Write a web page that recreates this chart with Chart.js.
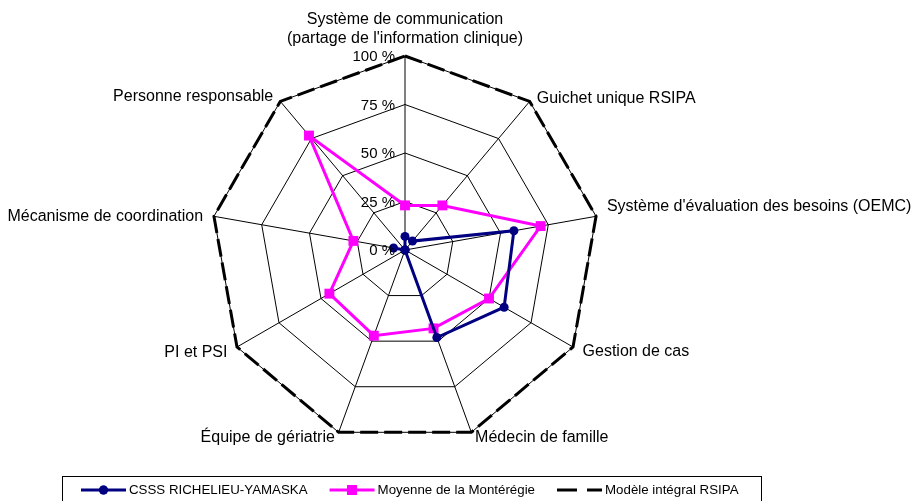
<!DOCTYPE html>
<html>
<head>
<meta charset="utf-8">
<script src="https://cdn.jsdelivr.net/npm/chart.js@4/dist/chart.umd.min.js"></script>
<style>
  html, body { margin: 0; padding: 0; background: #ffffff; }
  #wrap { width: 911px; height: 501px; position: relative; }
</style>
</head>
<body>
<div id="wrap"><canvas id="c" width="911" height="501"></canvas></div>
<script>
// ---- Data ----
const categories = [
  ["Système de communication", "(partage de l'information clinique)"],
  "Guichet unique RSIPA",
  "Système d'évaluation des besoins (OEMC)",
  "Gestion de cas",
  "Médecin de famille",
  "Équipe de gériatrie",
  "PI et PSI",
  "Mécanisme de coordination",
  "Personne responsable"
];
const seriesNames = ["CSSS RICHELIEU-YAMASKA", "Moyenne de la Montérégie", "Modèle intégral RSIPA"];
const csssValues = [7, 6, 57, 59, 48, 0, 0, 6, 0];
const monteregieValues = [23, 30, 71, 50, 43, 47, 45, 27, 77];
const modeleValues = [100, 100, 100, 100, 100, 100, 100, 100, 100];
const tickValues = [0, 25, 50, 75, 100];
const tickLabels = ["0 %", "25 %", "50 %", "75 %", "100 %"];

const FONT = '"Liberation Sans", Arial, sans-serif';
const labelDy = [2, 5.5, -8, -1, -5, -5, 0, 2, 4];

// Draw tick labels, point labels and legend using the chart's own scale
const annotatePlugin = {
  id: 'annotate',
  afterDraw(chart) {
    const ctx = chart.ctx;
    const r = chart.scales.r;
    ctx.save();
    ctx.fillStyle = '#000';
    // tick labels
    ctx.font = '15px ' + FONT;
    ctx.textAlign = 'right';
    ctx.textBaseline = 'middle';
    tickValues.forEach((v, i) => {
      const d = r.getDistanceFromCenterForValue(v);
      ctx.fillText(tickLabels[i], r.xCenter - 10, r.yCenter - d + 1);
    });
    // point labels
    ctx.font = '16px ' + FONT;
    const R = r.drawingArea;
    categories.forEach((lab, i) => {
      const p = r.getPointPosition(i, R + 11);
      const lines = Array.isArray(lab) ? lab : [lab];
      const ang = (i * 360 / categories.length);
      let align = 'center';
      if (ang > 0.5 && ang < 179.5) align = 'left';
      else if (ang > 180.5) align = 'right';
      ctx.textAlign = align;
      ctx.textBaseline = 'middle';
      if (align === 'center') {
        for (let k = 0; k < lines.length; k++) {
          const y = p.y - 8 - (lines.length - 1 - k) * 19 + labelDy[i];
          ctx.fillText(lines[k], p.x, y);
        }
      } else {
        ctx.fillText(lines[0], p.x, p.y + labelDy[i]);
      }
    });
    // legend
    const ds = chart.data.datasets;
    const boxL = 62, boxR = 761, boxT = 476, ly = 490;
    ctx.lineWidth = 1;
    ctx.strokeStyle = '#000';
    ctx.strokeRect(boxL + 0.5, boxT + 0.5, boxR - boxL, 40);
    ctx.font = '13.3px ' + FONT;
    ctx.textAlign = 'left';
    ctx.textBaseline = 'middle';
    const lineLen = 45, gapLT = 3, gapItems = 22;
    const widths = seriesNames.map(s => ctx.measureText(s).width);
    let x = 81;
    seriesNames.forEach((name, i) => {
      const d = ds[i];
      ctx.save();
      ctx.strokeStyle = d.borderColor;
      ctx.lineWidth = d.borderWidth;
      if (d.borderDash) ctx.setLineDash([20, 10]);
      ctx.beginPath();
      ctx.moveTo(x, ly);
      ctx.lineTo(x + lineLen, ly);
      ctx.stroke();
      ctx.restore();
      const mx = x + lineLen / 2;
      if (d.pointRadius > 0) {
        ctx.save();
        ctx.fillStyle = d.pointBackgroundColor;
        Chart.helpers.drawPoint(ctx, {pointStyle: d.pointStyle, radius: d.pointRadius, rotation: 0, borderWidth: 0}, mx, ly);
        ctx.fill();
        ctx.restore();
      }
      ctx.fillStyle = '#000';
      ctx.fillText(name, x + lineLen + gapLT, ly);
      x += lineLen + gapLT + widths[i] + gapItems;
    });
    ctx.restore();
  }
};

new Chart(document.getElementById('c'), {
  type: 'radar',
  data: {
    labels: categories,
    datasets: [
      {
        label: seriesNames[0],
        data: csssValues,
        borderColor: '#000080',
        backgroundColor: '#000080',
        pointBackgroundColor: '#000080',
        pointBorderColor: '#000080',
        borderWidth: 3,
        pointStyle: 'circle',
        pointRadius: 4.5,
        pointBorderWidth: 0,
        fill: false,
        tension: 0
      },
      {
        label: seriesNames[1],
        data: monteregieValues,
        borderColor: '#FF00FF',
        backgroundColor: '#FF00FF',
        pointBackgroundColor: '#FF00FF',
        pointBorderColor: '#FF00FF',
        borderWidth: 3,
        pointStyle: 'rect',
        pointRadius: 7,
        pointBorderWidth: 0,
        fill: false,
        tension: 0
      },
      {
        label: seriesNames[2],
        data: modeleValues,
        borderColor: '#000000',
        backgroundColor: '#000000',
        pointBackgroundColor: '#000000',
        borderWidth: 3,
        borderDash: [18, 6],
        pointRadius: 0,
        fill: false,
        tension: 0
      }
    ]
  },
  options: {
    responsive: false,
    animation: false,
    layout: { padding: { left: 211, right: 312, top: 56, bottom: 57 } },
    plugins: {
      legend: { display: false },
      title: { display: false },
      tooltip: { enabled: false }
    },
    elements: { line: { borderJoinStyle: 'miter' } },
    scales: {
      r: {
        min: 0,
        max: 100,
        ticks: { display: false, stepSize: 25 },
        grid: { color: '#000000', lineWidth: 1 },
        angleLines: { color: '#000000', lineWidth: 1 },
        pointLabels: { display: false }
      }
    }
  },
  plugins: [annotatePlugin]
});
</script>
</body>
</html>
